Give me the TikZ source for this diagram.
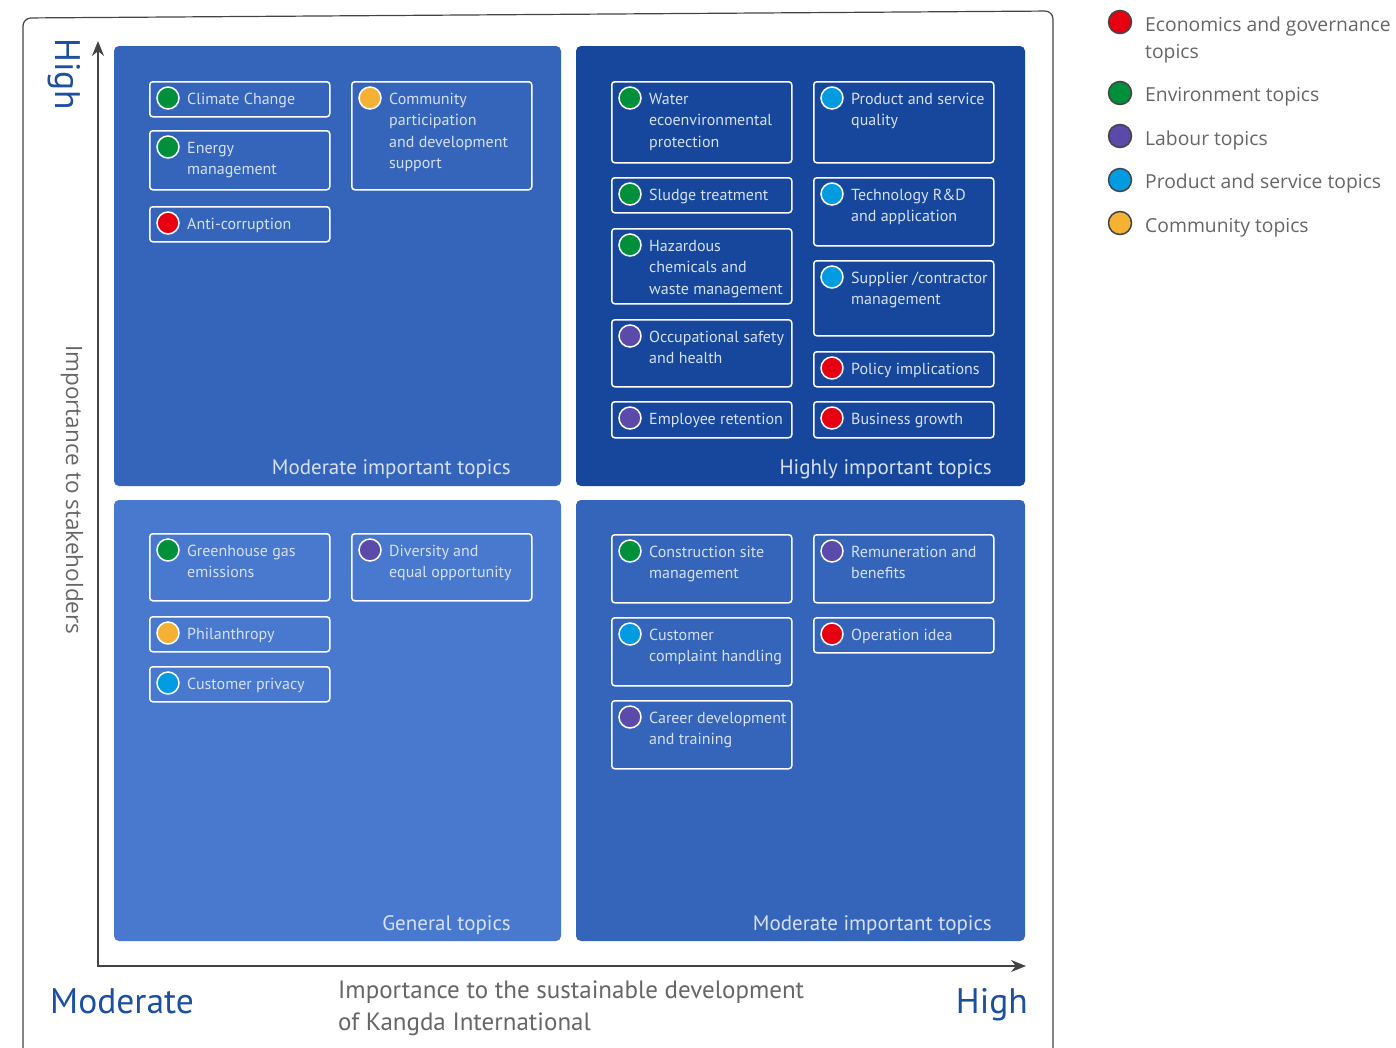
\documentclass[tikz,border=0pt]{standalone}
\usepackage{fontspec}
\setmainfont{PT Sans}
\newfontfamily\legfont{Open Sans}
\usetikzlibrary{arrows.meta,calc}
\definecolor{qA}{HTML}{3465BB}
\definecolor{qB}{HTML}{17479D}
\definecolor{qC}{HTML}{4879CF}
\definecolor{cRed}{HTML}{E60012}
\definecolor{cGreen}{HTML}{008F3A}
\definecolor{cPurple}{HTML}{5B4AAA}
\definecolor{cBlue}{HTML}{009BE1}
\definecolor{cOrange}{HTML}{F5B133}
\definecolor{txtLight}{HTML}{D6E0F3}
\definecolor{axisBlue}{HTML}{1D4FA0}
\definecolor{axisGray}{HTML}{444444}
\definecolor{labGray}{HTML}{666666}
\newcommand\mylines[1]{\begin{tabular}[t]{@{}l@{}}#1\end{tabular}}
\newcommand\topic[7]{%
  \node[tbox,minimum width=#4pt,minimum height=#5pt,anchor=north west] (#1) at (#2,#3) {};
  \node[tdot,fill=#6] (#1d) at ([xshift=19pt,yshift=-17pt]#1.north west) {};
  \node[ttext] (#1t) at ([xshift=38pt,yshift=-23pt]#1.north west) {\mylines{#7}};
}
\begin{document}
\begin{tikzpicture}[x=1pt,y=-1pt,
  quad/.style={draw=none,rounded corners=5pt,inner sep=0pt,outer sep=0pt},
  tbox/.style={draw=white,line width=1.5pt,rounded corners=3pt,inner sep=0pt},
  tdot/.style={circle,draw=white,line width=1.5pt,minimum size=22pt,inner sep=0pt},
  ttext/.style={anchor=base west,inner sep=0pt,text=txtLight,font=\fontsize{16}{21.5}\selectfont},
  qlabel/.style={anchor=base east,inner sep=0pt,text=txtLight,font=\fontsize{21}{24}\selectfont},
  ldot/.style={circle,draw=axisGray,line width=1.5pt,minimum size=23pt,inner sep=0pt},
  ltext/.style={anchor=base west,inner sep=0pt,text=labGray,align=left,font=\legfont\fontsize{19.3}{27}\selectfont},
]
\useasboundingbox (0,0) rectangle (1396,1047);
% outer frame
\coordinate (fbl) at (23,1060);
\coordinate (ftl) at (23,18);
\coordinate (ftr) at (1053,11);
\coordinate (fbr) at (1053,1060);
\draw[axisGray,line width=1.2pt,rounded corners=8pt] (fbl) -- (ftl) -- (ftr) -- (fbr);
% quadrants
\node[quad,fill=qA,minimum width=447pt,minimum height=440pt,anchor=north west] (q1) at (114,46) {};
\node[quad,fill=qB,minimum width=449pt,minimum height=440pt,anchor=north west] (q2) at (576,46) {};
\node[quad,fill=qC,minimum width=447pt,minimum height=441pt,anchor=north west] (q3) at (114,500) {};
\node[quad,fill=qA,minimum width=449pt,minimum height=441pt,anchor=north west] (q4) at (576,500) {};
% axes
\coordinate (org) at (98,966);
\coordinate (ytip) at (98,41);
\coordinate (xtip) at (1026,966);
\draw[axisGray,line width=1.3pt,{Stealth[length=15pt,width=12pt]}-{Stealth[length=15pt,width=12pt]}] (ytip) -- (org) -- (xtip);
% quadrant labels
\node[qlabel] (l1) at (511,474) {Moderate important topics};
\node[qlabel] (l2) at (992,474) {Highly important topics};
\node[qlabel] (l3) at (511,930) {General topics};
\node[qlabel] (l4) at (992,930) {Moderate important topics};
% axis labels
\node[rotate=-90,anchor=base west,inner sep=0pt,text=axisBlue,font=\fontsize{35.5}{40}\selectfont] (yhigh) at (55,38) {High};
\node[rotate=-90,anchor=base west,inner sep=0pt,text=labGray,font=\legfont\fontsize{22.5}{26}\selectfont] (ylab) at (66,345) {Importance to stakeholders};
\node[anchor=base west,inner sep=0pt,text=axisBlue,font=\fontsize{35.5}{40}\selectfont] (xmod) at (50,1013) {Moderate};
\node[anchor=base east,inner sep=0pt,text=axisBlue,font=\fontsize{35.5}{40}\selectfont] (xhigh) at (1028,1013) {High};
\node[anchor=base west,inner sep=0pt,text=labGray,font=\fontsize{25}{32}\selectfont] (xlab) at (338,998) {\mylines{Importance to the sustainable development\\of Kangda International}};
% legend
\node[ldot,fill=cRed] (g1d) at (1120,22) {};
\node[ltext] (g1t) at (1145,31) {\mylines{Economics and governance\\topics}};
\node[ldot,fill=cGreen] (g2d) at (1120,93) {};
\node[ltext] (g2t) at (1145,101) {Environment topics};
\node[ldot,fill=cPurple] (g3d) at (1120,136) {};
\node[ltext] (g3t) at (1145,145) {Labour topics};
\node[ldot,fill=cBlue] (g4d) at (1120,180) {};
\node[ltext] (g4t) at (1145,188) {Product and service topics};
\node[ldot,fill=cOrange] (g5d) at (1120,223) {};
\node[ltext] (g5t) at (1145,232) {Community topics};
% topics: top-left
\topic{a1}{149}{81}{180}{35}{cGreen}{Climate Change}
\topic{a2}{149}{130}{180}{59}{cGreen}{Energy\\management}
\topic{a3}{149}{206}{180}{35}{cRed}{Anti-corruption}
\topic{a4}{351}{81}{180}{108}{cOrange}{Community\\participation\\and development\\support}
% topics: top-right
\topic{b1}{611}{81}{180}{81}{cGreen}{Water\\ecoenvironmental\\protection}
\topic{b2}{611}{177}{180}{35}{cGreen}{Sludge treatment}
\topic{b3}{611}{228}{180}{75}{cGreen}{Hazardous\\chemicals and\\waste management}
\topic{b4}{611}{319}{180}{67}{cPurple}{Occupational safety\\and health}
\topic{b5}{611}{401}{180}{36}{cPurple}{Employee retention}
\topic{b6}{813}{81}{180}{81}{cBlue}{Product and service\\quality}
\topic{b7}{813}{177}{180}{68}{cBlue}{Technology R\&D\\and application}
\topic{b8}{813}{260}{180}{75}{cBlue}{Supplier /contractor\\management}
\topic{b9}{813}{351}{180}{35}{cRed}{Policy implications}
\topic{b10}{813}{401}{180}{36}{cRed}{Business growth}
% topics: bottom-left
\topic{c1}{149}{533}{180}{67}{cGreen}{Greenhouse gas\\emissions}
\topic{c2}{351}{533}{180}{67}{cPurple}{Diversity and\\equal opportunity}
\topic{c3}{149}{616}{180}{35}{cOrange}{Philanthropy}
\topic{c4}{149}{666}{180}{35}{cBlue}{Customer privacy}
% topics: bottom-right
\topic{d1}{611}{534}{180}{68}{cGreen}{Construction site\\management}
\topic{d2}{611}{617}{180}{68}{cBlue}{Customer\\complaint handling}
\topic{d3}{611}{700}{180}{68}{cPurple}{Career development\\and training}
\topic{d4}{813}{534}{180}{68}{cPurple}{Remuneration and\\benefits}
\topic{d5}{813}{617}{180}{35}{cRed}{Operation idea}
\end{tikzpicture}
\end{document}
